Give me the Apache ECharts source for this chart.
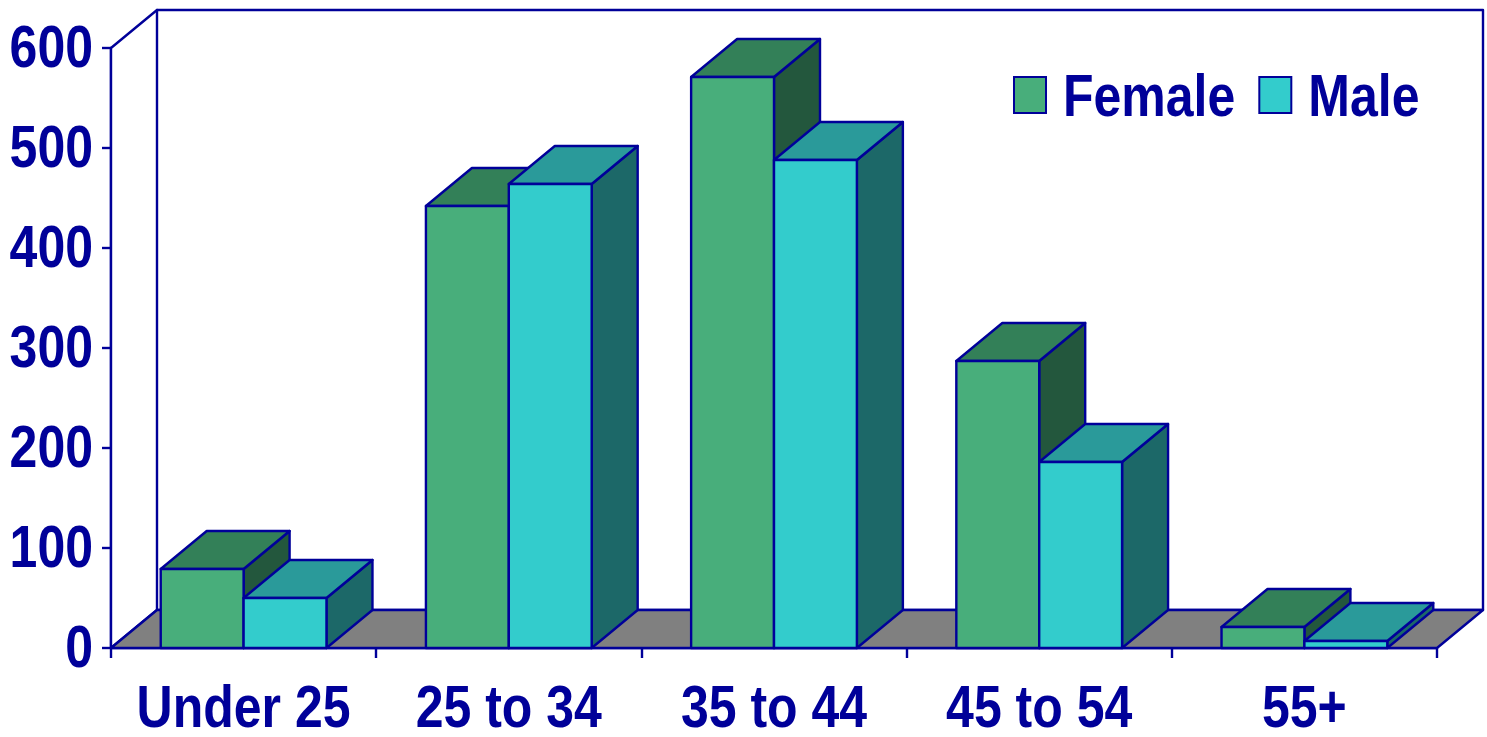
<!DOCTYPE html>
<html>
<head>
<meta charset="utf-8">
<style>html,body{margin:0;padding:0;background:#fff}#c{width:1487px;height:737px}</style>
<script src="https://cdn.jsdelivr.net/npm/echarts@6/dist/echarts.min.js"></script>
</head>
<body>
<div id="c"></div>
<script>
var categories = ['Under 25', '25 to 34', '35 to 44', '45 to 54', '55+'];
var seriesNames = ['Female', 'Male'];
var female = [79, 442, 571, 287, 21];
var male = [50, 464, 488, 186, 7];
var yTicks = {min: 0, max: 600, interval: 100};

var NAVY = '#000099';
var FONT = '"Liberation Sans",Arial,sans-serif';
var FONT_SIZE = 50, TEXT_STRETCH = 1.17;
var DX = 46, DY = 38, LW = 2.4;
var BAR_RATIO = 0.3125;

function face(points, fill) {
  return {type: 'polygon', shape: {points: points},
    style: {fill: fill, stroke: NAVY, lineWidth: LW, lineJoin: 'round'}};
}
function barRenderer(side, front, top, dark) {
  return function (params, api) {
    var c = api.coord([api.value(0), 0]);
    var t = api.coord([api.value(0), api.value(1)]);
    var w = api.size([1, 0])[0] * BAR_RATIO;
    var x0 = side < 0 ? c[0] - w : c[0];
    var x1 = x0 + w, y0 = c[1], y1 = t[1];
    return {type: 'group', children: [
      face([[x1, y0], [x1 + DX, y0 - DY], [x1 + DX, y1 - DY], [x1, y1]], dark),
      face([[x0, y1], [x0 + DX, y1 - DY], [x1 + DX, y1 - DY], [x1, y1]], top),
      face([[x0, y0], [x1, y0], [x1, y1], [x0, y1]], front)
    ]};
  };
}
function frameRenderer(params) {
  var g = params.coordSys, l = g.x, r = g.x + g.width, t = g.y, b = g.y + g.height;
  return {type: 'group', children: [
    face([[l, t], [l + DX, t - DY], [r + DX, t - DY], [r + DX, b - DY], [l + DX, b - DY], [l, b]], '#ffffff'),
    face([[l + DX, t - DY], [l + DX, b - DY]], 'none'),
    face([[l, b], [l + DX, b - DY], [r + DX, b - DY], [r, b]], '#808080')
  ]};
}
function pairs(arr) { return arr.map(function (v, i) { return [i, v]; }); }

var chart = echarts.init(document.getElementById('c'), null, {renderer: 'canvas'});
chart.setOption({
  animation: false,
  backgroundColor: '#ffffff',
  grid: {left: 111, top: 48, width: 1326, height: 600, containLabel: false, outerBoundsMode: 'none'},
  legend: {
    data: seriesNames, left: 1013, top: 70, orient: 'horizontal', padding: 0,
    icon: 'rect', itemWidth: 32, itemHeight: 36, itemGap: 23,
    selectedMode: false,
    textStyle: {color: NAVY, fontFamily: FONT, fontWeight: 'bold', fontSize: FONT_SIZE, padding: [0, 0, 0, 12]}
  },
  xAxis: {
    type: 'category', data: categories, boundaryGap: true,
    axisLine: {lineStyle: {color: NAVY, width: LW}},
    axisTick: {show: true, length: 10, lineStyle: {color: NAVY, width: LW}},
    axisLabel: {color: NAVY, fontFamily: FONT, fontWeight: 'bold', fontSize: FONT_SIZE, margin: 35, interval: 0}
  },
  yAxis: {
    type: 'value', min: yTicks.min, max: yTicks.max, interval: yTicks.interval,
    axisLine: {show: true, lineStyle: {color: NAVY, width: LW}},
    axisTick: {show: true, length: 9, lineStyle: {color: NAVY, width: LW}},
    axisLabel: {color: NAVY, fontFamily: FONT, fontWeight: 'bold', fontSize: FONT_SIZE, margin: 18},
    splitLine: {show: false}
  },
  series: [
    {type: 'custom', name: 'frame', z: 1, silent: true, data: [[0, 0]], renderItem: frameRenderer, clip: false},
    {type: 'custom', name: seriesNames[0], z: 2, silent: true, data: pairs(female),
      encode: {x: 0, y: 1}, clip: false,
      itemStyle: {color: '#48AE7B', borderColor: NAVY, borderWidth: LW},
      renderItem: barRenderer(-1, '#48AE7B', '#338058', '#23573D')},
    {type: 'custom', name: seriesNames[1], z: 3, silent: true, data: pairs(male),
      encode: {x: 0, y: 1}, clip: false,
      itemStyle: {color: '#33CCCC', borderColor: NAVY, borderWidth: LW},
      renderItem: barRenderer(1, '#33CCCC', '#2A9A9A', '#1C6868')}
  ]
});

// The reference's lettering is vertically stretched and sits a little lower;
// stretch each text about its own centre and nudge it down.
var zr = chart.getZr();
zr.storage.traverse(function (el) {
  if (el.type === 'text' && el.style && el.style.text) {
    var r = el.getBoundingRect();
    el.originX = r.x + r.width / 2;
    el.originY = r.y + r.height / 2;
    el.scaleY = TEXT_STRETCH;
    el.y += seriesNames.indexOf(el.style.text) >= 0 ? 5 : 2.5;
    el.markRedraw();
  }
});
zr.refreshImmediately();
</script>
</body>
</html>
